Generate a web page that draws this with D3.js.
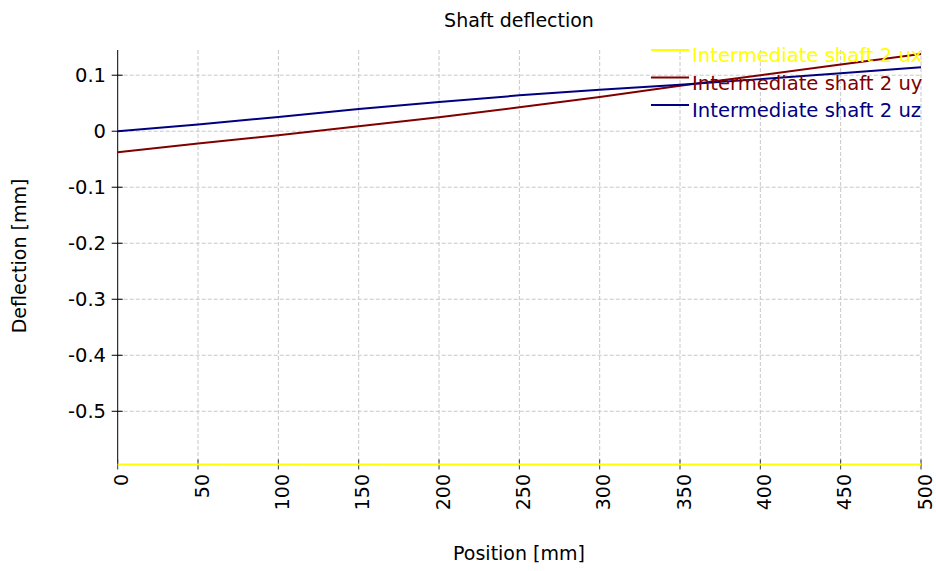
<!DOCTYPE html>
<html>
<head>
<meta charset="utf-8">
<script src="https://cdn.jsdelivr.net/npm/d3@7"></script>
<style>
  body { margin: 0; background: #fff; }
  text { font-family: "DejaVu Sans", sans-serif; }
</style>
</head>
<body>
<div id="chart"></div>
<script>
// positions along the shaft [mm]
const positions = [0, 50, 100, 150, 200, 250, 300, 350, 400, 450, 500];
// deflections [mm]
const ux = [-0.595, -0.595, -0.595, -0.595, -0.595, -0.595, -0.595, -0.595, -0.595, -0.595, -0.595];
const uy = [-0.0375, -0.022, -0.0071, 0.0088, 0.0248, 0.0427, 0.061, 0.081, 0.100, 0.119, 0.138];
const uz = [0, 0.0121, 0.0254, 0.0398, 0.0523, 0.064, 0.0741, 0.083, 0.093, 0.1034, 0.114];

const seriesNames = ["Intermediate shaft 2 ux", "Intermediate shaft 2 uy", "Intermediate shaft 2 uz"];
const seriesColors = ["#ffff00", "#800000", "#000080"];
const xTicks = [0, 50, 100, 150, 200, 250, 300, 350, 400, 450, 500];
const yTicks = [0.1, 0, -0.1, -0.2, -0.3, -0.4, -0.5];

const W = 936, H = 571;
const svg = d3.select("#chart").append("svg").attr("width", W).attr("height", H);

const plotLeft = 117.7, plotRight = 921, plotTop = 50, plotBottom = 464.5;

const x = d3.scaleLinear().domain([0, 500]).range([plotLeft, plotRight]);
const y = d3.scaleLinear().domain([-0.595, 0.145]).range([plotBottom, plotTop]);

// grid
const grid = svg.append("g");
grid.selectAll(".vg")
  .data(xTicks.filter(d => d > 0))
  .enter()
  .append("line")
  .attr("x1", d => x(d)).attr("x2", d => x(d))
  .attr("y1", plotTop).attr("y2", plotBottom)
  .attr("stroke", "#c8c8c8")
  .attr("stroke-dasharray", "4,2");
grid.selectAll(".hg")
  .data(yTicks)
  .enter()
  .append("line")
  .attr("x1", plotLeft).attr("x2", plotRight)
  .attr("y1", d => y(d)).attr("y2", d => y(d))
  .attr("stroke", "#c8c8c8")
  .attr("stroke-dasharray", "4,2");

// y axis
const yAxis = svg.append("g");
yAxis.append("line")
  .attr("x1", plotLeft).attr("x2", plotLeft)
  .attr("y1", plotTop).attr("y2", plotBottom)
  .attr("stroke", "#000");
yAxis.selectAll(".yt")
  .data(yTicks)
  .enter()
  .append("line")
  .attr("x1", plotLeft - 6).attr("x2", plotLeft + 5)
  .attr("y1", d => y(d)).attr("y2", d => y(d))
  .attr("stroke", "#000");
yAxis.selectAll(".yl")
  .data(yTicks)
  .enter()
  .append("text")
  .attr("x", 106)
  .attr("y", d => y(d))
  .attr("dy", "0.35em")
  .attr("text-anchor", "end")
  .attr("font-size", 19.5)
  .text(d => String(d));

// x axis ticks
const xAxis = svg.append("g");
xAxis.selectAll(".xt")
  .data(xTicks)
  .enter()
  .append("line")
  .attr("x1", d => x(d)).attr("x2", d => x(d))
  .attr("y1", plotBottom - 5).attr("y2", plotBottom + 5)
  .attr("stroke", "#333");
xAxis.selectAll(".xl")
  .data(xTicks)
  .enter()
  .append("text")
  .attr("transform", d => "translate(" + (x(d) + 4) + "," + 474 + ") rotate(-90)")
  .attr("dy", "0.35em")
  .attr("text-anchor", "end")
  .attr("font-size", 19)
  .text(d => d);

// lines
const line = d3.line()
  .x((d, i) => x(positions[i]))
  .y(d => y(d));

[ux, uy, uz].forEach((s, i) => {
  svg.append("path")
    .datum(s)
    .attr("d", line)
    .attr("fill", "none")
    .attr("stroke", seriesColors[i])
    .attr("stroke-width", 2);
});

// legend
const legend = svg.append("g");
seriesNames.forEach((name, i) => {
  const ly = 50 + i * 27.5;
  legend.append("line")
    .attr("x1", 651).attr("x2", 689)
    .attr("y1", ly).attr("y2", ly)
    .attr("stroke", seriesColors[i])
    .attr("stroke-width", 2);
  legend.append("text")
    .attr("x", 692)
    .attr("y", ly + 12)
    .attr("font-size", 19.6)
    .attr("fill", seriesColors[i])
    .text(name);
});

// titles
svg.append("text")
  .attr("x", 519).attr("y", 27)
  .attr("text-anchor", "middle")
  .attr("font-size", 19)
  .text("Shaft deflection");
svg.append("text")
  .attr("x", 519).attr("y", 560)
  .attr("text-anchor", "middle")
  .attr("font-size", 19)
  .text("Position [mm]");
svg.append("text")
  .attr("transform", "translate(26,256) rotate(-90)")
  .attr("text-anchor", "middle")
  .attr("font-size", 19)
  .text("Deflection [mm]");
</script>
</body>
</html>
